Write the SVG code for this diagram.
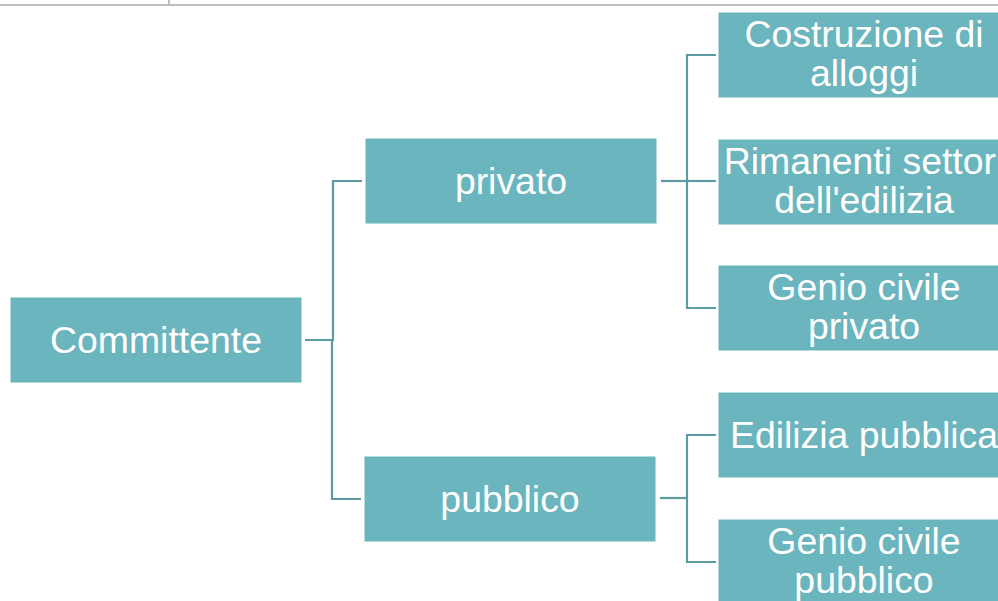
<svg xmlns="http://www.w3.org/2000/svg" width="998" height="601" viewBox="0 0 998 601">
<style>
.box{fill:#6bb5be;stroke:#ffffff;stroke-width:1}
.t{font-family:"Liberation Sans",Arial,sans-serif;font-size:37.4px;fill:#ffffff;text-anchor:middle}
.c{fill:none;stroke:#5b9ba1;stroke-width:2.2}
</style>
<rect x="0" y="0" width="998" height="601" fill="#ffffff"/>
<g id="frame">
<line x1="0" y1="5" x2="998" y2="5" stroke="#bfbfbf" stroke-width="2"/>
<line x1="169" y1="0" x2="169" y2="5" stroke="#bfbfbf" stroke-width="2"/>
</g>
<g id="connectors">
<polyline class="c" points="305,340 333,340 333,181 362,181"/>
<polyline class="c" points="333,340 332,340 332,499 361,499"/>
<line class="c" x1="661" y1="181" x2="687" y2="181"/>
<polyline class="c" points="716,55 687,55 687,308 716,308"/>
<line class="c" x1="687" y1="181" x2="716" y2="181"/>
<line class="c" x1="660" y1="498" x2="687" y2="498"/>
<polyline class="c" points="716,435 687,435 687,562 716,562"/>
</g>
<g id="committente">
<rect class="box" x="10" y="297" width="292" height="86"/>
<text class="t" x="156" y="353">Committente</text>
</g>
<g id="privato">
<rect class="box" x="365" y="138" width="292" height="86"/>
<text class="t" x="511" y="194">privato</text>
</g>
<g id="pubblico">
<rect class="box" x="364" y="456" width="292" height="86"/>
<text class="t" x="510" y="512">pubblico</text>
</g>
<g id="costruzione">
<rect class="box" x="718" y="12" width="292" height="86"/>
<text class="t" x="864" y="47">Costruzione di</text>
<text class="t" x="864" y="86">alloggi</text>
</g>
<g id="rimanenti">
<rect class="box" x="718" y="139" width="292" height="86"/>
<text class="t" x="864" y="174">Rimanenti settori</text>
<text class="t" x="864" y="213">dell'edilizia</text>
</g>
<g id="genio-privato">
<rect class="box" x="718" y="265" width="292" height="86"/>
<text class="t" x="864" y="300">Genio civile</text>
<text class="t" x="864" y="339">privato</text>
</g>
<g id="edilizia-pubblica">
<rect class="box" x="718" y="392" width="292" height="86"/>
<text class="t" x="864" y="448">Edilizia pubblica</text>
</g>
<g id="genio-pubblico">
<rect class="box" x="718" y="519" width="292" height="86"/>
<text class="t" x="864" y="554">Genio civile</text>
<text class="t" x="864" y="593">pubblico</text>
</g>
</svg>
